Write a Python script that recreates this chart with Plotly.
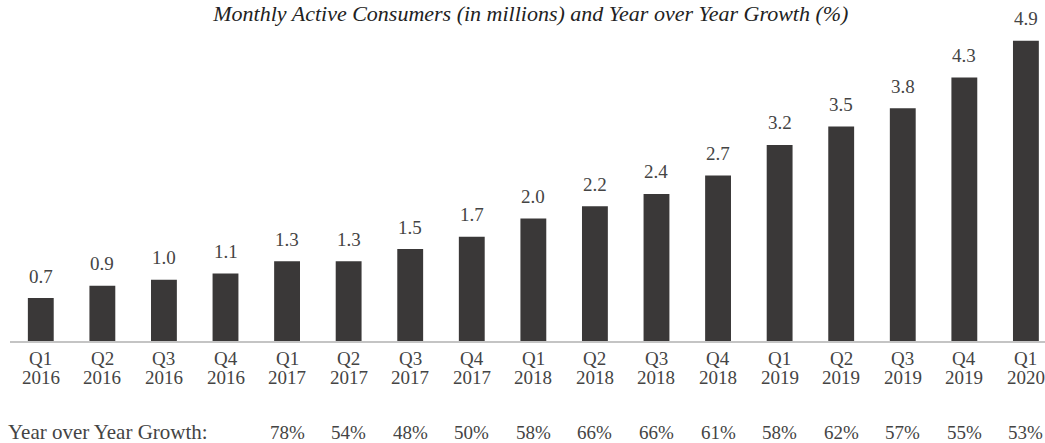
import plotly.graph_objects as go

quarters = ["Q1", "Q2", "Q3", "Q4", "Q1", "Q2", "Q3", "Q4", "Q1", "Q2", "Q3", "Q4",
            "Q1", "Q2", "Q3", "Q4", "Q1"]
years = ["2016", "2016", "2016", "2016", "2017", "2017", "2017", "2017", "2018", "2018",
         "2018", "2018", "2019", "2019", "2019", "2019", "2020"]
consumers = [0.7, 0.9, 1.0, 1.1, 1.3, 1.3, 1.5, 1.7, 2.0, 2.2, 2.4, 2.7, 3.2, 3.5, 3.8, 4.3, 4.9]
growth = [None, None, None, None, "78%", "54%", "48%", "50%", "58%", "66%", "66%", "61%",
          "58%", "62%", "57%", "55%", "53%"]

FONT = "Liberation Serif, Times New Roman, serif"
TXT = "#444444"
xs = list(range(len(consumers)))

fig = go.Figure()
fig.add_trace(go.Bar(x=xs, y=consumers, marker_color="#3a3838", marker_line_width=0,
                     width=0.42, hoverinfo="skip"))

for i, v in enumerate(consumers):
    fig.add_annotation(x=i, y=v, text=f"{v:.1f}", showarrow=False, yanchor="middle",
                       yshift=22, font=dict(family=FONT, size=19, color=TXT))
for i, (q, yr) in enumerate(zip(quarters, years)):
    fig.add_annotation(x=i, y=0, yref="paper", text=q, showarrow=False, yanchor="middle",
                       yshift=-17, font=dict(family=FONT, size=19, color=TXT))
    fig.add_annotation(x=i, y=0, yref="paper", text=yr, showarrow=False, yanchor="middle",
                       yshift=-36, font=dict(family=FONT, size=19, color=TXT))
for i, g in enumerate(growth):
    if g:
        fig.add_annotation(x=i, y=0, yref="paper", text=g, showarrow=False, yanchor="middle",
                           yshift=-91, font=dict(family=FONT, size=19, color=TXT))
fig.add_annotation(x=0, xref="paper", xanchor="left", xshift=-4, y=0, yref="paper",
                   yanchor="middle", yshift=-91,
                   text="Year over Year Growth:", showarrow=False,
                   font=dict(family=FONT, size=21, color=TXT))

fig.update_layout(
    width=1045, height=443,
    margin=dict(l=10, r=0, t=20, b=102),
    plot_bgcolor="white", paper_bgcolor="white",
    showlegend=False,
    title=dict(text="<i>Monthly Active Consumers (in millions) and Year over Year Growth (%)</i>",
               x=0.508, xanchor="center", y=1, yref="container", yanchor="top",
               pad=dict(t=6, b=0),
               font=dict(family=FONT, size=22, color="#222222")),
    xaxis=dict(tickmode="array", tickvals=xs, showticklabels=False,
               range=[-0.5, 16.31], showline=True, linecolor="#c4c4c4", linewidth=2,
               showgrid=False, zeroline=False, ticks=""),
    yaxis=dict(range=[0, 5.24], visible=False, showgrid=False, zeroline=False),
)

fig.write_html("out.html")
